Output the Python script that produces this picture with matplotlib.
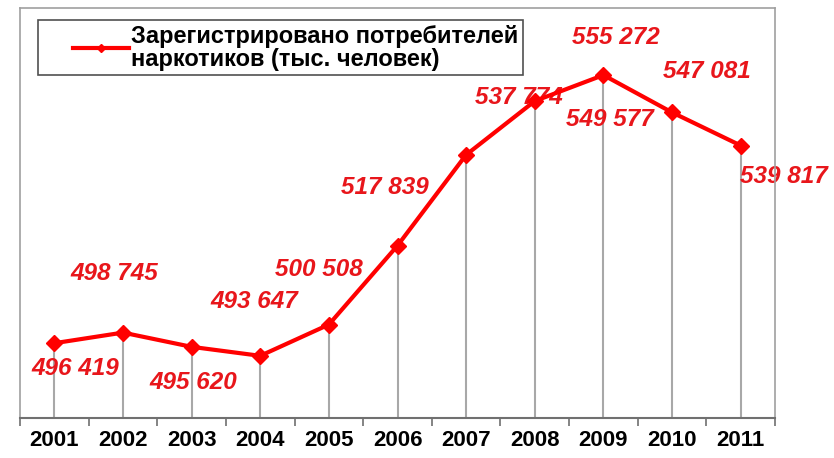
import matplotlib.pyplot as plt
from matplotlib.legend_handler import HandlerLine2D
import numpy as np

# data
years = ['2001', '2002', '2003', '2004', '2005', '2006',
         '2007', '2008', '2009', '2010', '2011']
users = [496419, 498745, 495620, 493647, 500508, 517839,
         537774, 549577, 555272, 547081, 539817]
labels = ['496 419', '498 745', '495 620', '493 647', '500 508', '517 839',
          '537 774', '549 577', '555 272', '547 081', '539 817']
# label offsets from each point, in pixels
offsets = [(21, -25), (-9, 59), (2, -36), (-6, 54), (-10, 55), (-13, 58),
           (53, 57), (75, -18), (12, 38), (35, 41), (43, -31)]

plt.rcParams['font.family'] = ['Liberation Sans', 'DejaVu Sans']

fig = plt.figure(figsize=(8.34, 4.58), dpi=100)
ax = fig.add_axes([20/834, 1-418/458, 755/834, 410/458])

x = np.arange(len(years))
ymin, ymax = 480000, 570000

# grey drop lines from points to the axis
ax.vlines(x, ymin, users, color='#a8a8a8', lw=1.5, zorder=1)

line, = ax.plot(x, users, color='#ff0000', lw=3, marker='D', markersize=8.5,
                zorder=3, label='Зарегистрировано потребителей\nнаркотиков (тыс. человек)')

for xi, yi, txt, off in zip(x, users, labels, offsets):
    ax.annotate(txt, (xi, yi), xytext=off, textcoords='offset pixels',
                ha='center', va='center', color='#e8161b', fontsize=17.5,
                fontweight='bold', fontstyle='italic', zorder=2)

ax.set_xlim(-0.5, len(years) - 0.5)
ax.set_ylim(ymin, ymax)
ax.set_yticks([])
ax.set_xticks(x)
ax.set_xticklabels(years, fontsize=16, fontweight='bold')
ax.set_xticks(np.arange(-0.5, len(years), 1), minor=True)
ax.tick_params(axis='x', which='major', length=0, pad=9)
ax.tick_params(axis='x', which='minor', length=6, direction='out',
               color='#707070', width=1.2)

for s in ['top', 'left', 'right']:
    ax.spines[s].set_color('#a0a0a0')
    ax.spines[s].set_linewidth(1.2)
ax.spines['bottom'].set_color('#707070')
ax.spines['bottom'].set_linewidth(1.5)

leg = ax.legend(loc='upper left', bbox_to_anchor=(38/834, 1-20/458),
                bbox_transform=fig.transFigure, borderaxespad=0,
                fancybox=False, edgecolor='#505050', framealpha=1,
                prop={'weight': 'bold', 'size': 17},
                handlelength=3.65, handletextpad=0.1, borderpad=0.2,
                markerscale=0.5,
                handler_map={line: HandlerLine2D(xpad=1.3)})
leg.get_frame().set_linewidth(1.2)
for t in leg.get_texts():
    t.set_linespacing(1.0)

fig.savefig('out.png', dpi=100, facecolor='white')
